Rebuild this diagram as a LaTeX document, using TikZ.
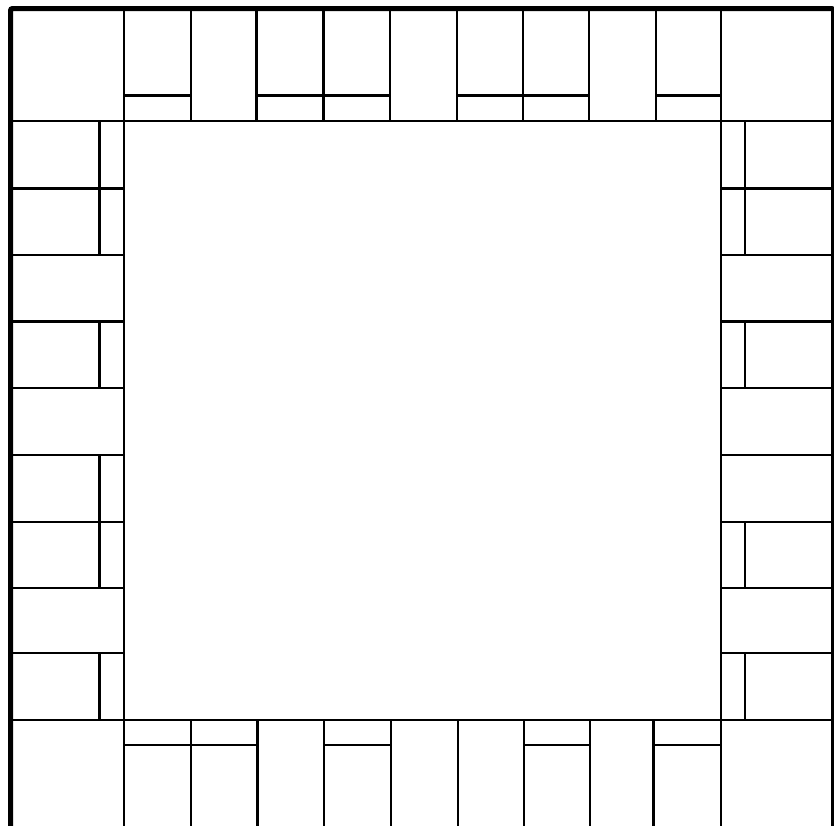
\documentclass[tikz,border=0pt]{standalone}
\begin{document}
\begin{tikzpicture}[x=1pt,y=-1pt,
  grid/.style={line width=2.2pt,line cap=rect},
  rim/.style={line width=5pt,rounded corners=2pt}]
\useasboundingbox (0,0) rectangle (834,825);
\clip (0,0) rectangle (834,825);
% outer border
\draw[rim] (10.5,8.5) rectangle (833.5,832);
% main inner frame
\draw[grid] (10.5,121) -- (833.5,121);
\draw[grid] (10.5,720) -- (833.5,720);
\draw[grid] (124,8.5) -- (124,832);
\draw[grid] (720.7,8.5) -- (720.7,832);
% top row dividers
\foreach \x in {191,256.5,323.5,390,456.7,523,589.3,656}
  \draw[grid] (\x,8.5) -- (\x,121);
% top stripes
\foreach \a/\b in {124/191,256.5/323.5,323.5/390,456.7/523,523/589.3,656/720.7}
  \draw[grid] (\a,95.5) -- (\b,95.5);
% bottom row dividers
\foreach \x in {191,257.5,324,391,457.7,524,589.8,653.5}
  \draw[grid] (\x,720) -- (\x,832);
% bottom stripes
\foreach \a/\b in {124/191,191/257.5,324/391,524/589.8,653.5/720.7}
  \draw[grid] (\a,745) -- (\b,745);
% left and right row dividers
\foreach \y in {188.5,255,321.5,388.3,455.3,521.7,588.3,653.3} {
  \draw[grid] (10.5,\y) -- (124,\y);
  \draw[grid] (720.7,\y) -- (833.5,\y);
}
% left stripes
\foreach \a/\b in {121/188.5,188.5/255,321.5/388.3,455.3/521.7,521.7/588.3,653.3/720}
  \draw[grid] (99.5,\a) -- (99.5,\b);
% right stripes
\foreach \a/\b in {121/188.5,188.5/255,321.5/388.3,521.7/588.3,653.3/720}
  \draw[grid] (745,\a) -- (745,\b);
\end{tikzpicture}
\end{document}
